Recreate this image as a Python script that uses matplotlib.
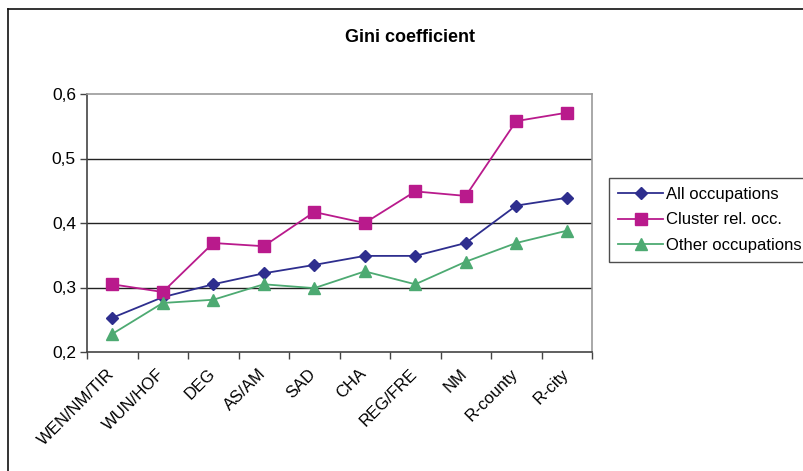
import matplotlib
matplotlib.use("Agg")
import matplotlib.pyplot as plt
from matplotlib.lines import Line2D
from matplotlib.ticker import FuncFormatter, MultipleLocator
from matplotlib.transforms import ScaledTranslation

plt.rcParams['font.family'] = ['Liberation Sans', 'DejaVu Sans']

regions = ["WEN/NM/TIR", "WUN/HOF", "DEG", "AS/AM", "SAD", "CHA",
           "REG/FRE", "NM", "R-county", "R-city"]
all_occ = [0.253, 0.285, 0.305, 0.322, 0.335, 0.349, 0.349, 0.369, 0.427, 0.439]
cluster_occ = [0.305, 0.293, 0.369, 0.364, 0.417, 0.400, 0.449, 0.442, 0.558, 0.571]
other_occ = [0.228, 0.276, 0.281, 0.305, 0.299, 0.325, 0.305, 0.340, 0.369, 0.388]

series = [
    ("All occupations", all_occ, "#2E2E8E", "D", 6.5),
    ("Cluster rel. occ.", cluster_occ, "#B91A8C", "s", 8),
    ("Other occupations", other_occ, "#4DAA72", "^", 8.5),
]

fig = plt.figure(figsize=(8.04, 4.71), dpi=100)
W, H = 804, 471
ax = fig.add_axes([87 / W, 1 - 352 / H, (592 - 87) / W, (352 - 94) / H])

x = list(range(len(regions)))
for name, vals, color, marker, ms in series:
    ax.plot(x, vals, color=color, lw=1.3, marker=marker, ms=ms,
            markeredgecolor=color, label=name, zorder=3)

ax.set_xlim(-0.5, len(regions) - 0.5)
ax.set_ylim(0.2, 0.6)
ax.yaxis.set_major_locator(MultipleLocator(0.1))
ax.yaxis.set_major_formatter(FuncFormatter(lambda v, p: f"{v:.1f}".replace(".", ",")))
for g in (0.3, 0.4, 0.5):
    ax.axhline(g, color="#222222", lw=1.0, zorder=1)

# tick marks sit on the category boundaries
ax.set_xticks([i - 0.5 for i in range(len(regions) + 1)])
ax.set_xticklabels([])
ax.tick_params(axis="x", which="major", length=5, width=1, color="#444444",
               direction="out")
ax.tick_params(axis="y", length=5, width=1, color="#444444", labelsize=12.5, pad=3)

# slanted category names under each category centre
offset = ScaledTranslation(-6 / 100, -14 / 100, fig.dpi_scale_trans)
label_tf = ax.get_xaxis_transform() + offset
for xi, name in zip(x, regions):
    ax.text(xi, 0, name, transform=label_tf, rotation=45, ha="right", va="top",
            rotation_mode="anchor", fontsize=12, clip_on=False)

for side in ("left", "bottom"):
    ax.spines[side].set_color("#444444")
    ax.spines[side].set_linewidth(1.2)
for side in ("top", "right"):
    ax.spines[side].set_color("#999999")
    ax.spines[side].set_linewidth(1.2)

fig.text(410 / W, 1 - 37 / H, "Gini coefficient", ha="center", va="center",
         fontsize=13, fontweight="bold")

leg = fig.legend(loc="upper left", bbox_to_anchor=(609 / W, 1 - 178 / H),
                 fontsize=12, frameon=True, fancybox=False,
                 borderpad=0.55, labelspacing=0.62, handlelength=2.7,
                 handletextpad=0.2, borderaxespad=0)
leg.get_frame().set_edgecolor("#222222")
leg.get_frame().set_linewidth(1.0)

# outer chart frame (left and top edges)
fig.add_artist(Line2D([8 / W, 8 / W], [0, 1 - 9 / H], transform=fig.transFigure,
                      color="#111111", lw=1.2))
fig.add_artist(Line2D([8 / W, 1], [1 - 9 / H, 1 - 9 / H], transform=fig.transFigure,
                      color="#111111", lw=1.2))

fig.savefig("out.png", dpi=100, facecolor="white")
